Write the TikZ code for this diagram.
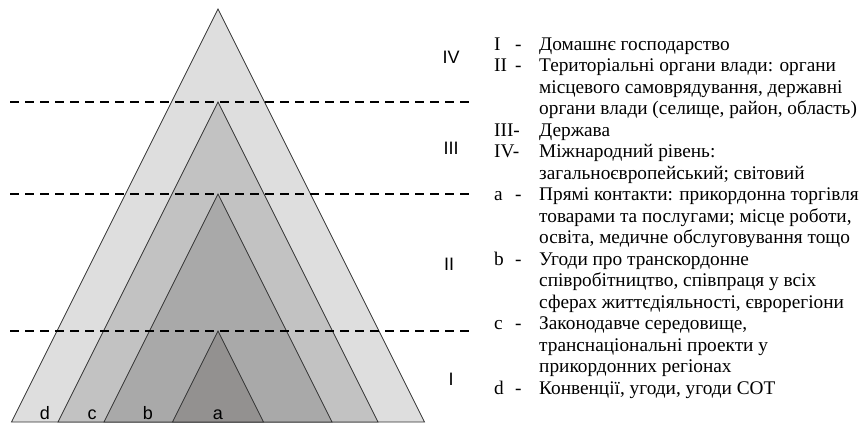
\documentclass[tikz,border=0pt]{standalone}
\usepackage{fontspec}
\setmainfont{Liberation Serif}
\newfontfamily\arialfont{Liberation Sans}
\definecolor{colD}{HTML}{DEDEDE}
\definecolor{colC}{HTML}{C2C2C2}
\definecolor{colB}{HTML}{A9A9A9}
\definecolor{colA}{HTML}{939190}
\definecolor{edge}{HTML}{333333}
\begin{document}
\begin{tikzpicture}[x=1pt,y=-1pt]
\tikzset{
  tri/.style={draw=edge, line width=0.7pt, line join=miter},
  lvl/.style={draw=black, line width=1.6pt, dash pattern=on 9pt off 6pt},
  rom/.style={font=\arialfont\fontsize{18}{20}\selectfont, inner sep=0pt},
  band/.style={font=\arialfont\fontsize{18}{20}\selectfont, inner sep=0pt, anchor=base},
  leg/.style={font=\fontsize{19.3}{21}\selectfont, anchor=base west, inner sep=0pt},
}
\useasboundingbox (0,0) rectangle (863,424);
% triangles
\draw[tri, fill=colD] (218,9) -- (424.5,422) -- (11.5,422) -- cycle;
\draw[tri, fill=colC] (218,102) -- (378,422) -- (58,422) -- cycle;
\draw[tri, fill=colB] (218,194) -- (332,422) -- (104,422) -- cycle;
\draw[tri, fill=colA] (218,331) -- (263.5,422) -- (172.5,422) -- cycle;
% level lines
\coordinate (l3a) at (10,102); \coordinate (l3b) at (471,102);
\coordinate (l2a) at (10,194); \coordinate (l2b) at (471,194);
\coordinate (l1a) at (10,331); \coordinate (l1b) at (471,331);
\draw[lvl] (l3a) -- (l3b);
\draw[lvl] (l2a) -- (l2b);
\draw[lvl] (l1a) -- (l1b);
% level labels
\node[rom] (r4) at (451,57) {IV};
\node[rom] (r3) at (451,148) {III};
\node[rom] (r2) at (449,264) {II};
\node[rom] (r1) at (451,379) {I};
% band labels
\node[band] (bd) at (45,419) {d};
\node[band] (bc) at (92,419) {c};
\node[band] (bb) at (148,419) {b};
\node[band] (ba) at (218,419) {a};
% legend
\def\ky#1{(494,{50+21.5*#1})}
\def\dy#1{(515,{50+21.5*#1})}
\def\ty#1{(539,{50+21.5*#1})}
\node[leg] (k1) at \ky{0} {I};   \node[leg] (d1) at \dy{0} {-};
\node[leg] (t1) at \ty{0} {Домашнє господарство};
\node[leg] (k2) at \ky{1} {II};  \node[leg] (d2) at \dy{1} {-};
\node[leg] (t2) at \ty{1} {Територіальні органи влади: органи};
\node[leg] (t3) at \ty{2} {місцевого самоврядування, державні};
\node[leg] (t4) at \ty{3} {органи влади (селище, район, область)};
\node[leg] (k3) at \ky{4} {III-};
\node[leg] (t5) at \ty{4} {Держава};
\node[leg] (k4) at \ky{5} {IV-};
\node[leg] (t6) at \ty{5} {Міжнародний рівень:};
\node[leg] (t7) at \ty{6} {загальноєвропейський; світовий};
\node[leg] (ka) at \ky{7} {a};   \node[leg] (da) at \dy{7} {-};
\node[leg] (t8) at \ty{7} {Прямі контакти: прикордонна торгівля};
\node[leg] (t9) at \ty{8} {товарами та послугами; місце роботи,};
\node[leg] (t10) at \ty{9} {освіта, медичне обслуговування тощо};
\node[leg] (kb) at \ky{10} {b};  \node[leg] (db) at \dy{10} {-};
\node[leg] (t11) at \ty{10} {Угоди про транскордонне};
\node[leg] (t12) at \ty{11} {співробітництво, співпраця у всіх};
\node[leg] (t13) at \ty{12} {сферах життєдіяльності, єврорегіони};
\node[leg] (kc) at \ky{13} {c};  \node[leg] (dc) at \dy{13} {-};
\node[leg] (t14) at \ty{13} {Законодавче середовище,};
\node[leg] (t15) at \ty{14} {транснаціональні проекти у};
\node[leg] (t16) at \ty{15} {прикордонних регіонах};
\node[leg] (kd) at \ky{16} {d};  \node[leg] (dd) at \dy{16} {-};
\node[leg] (t17) at \ty{16} {Конвенції, угоди, угоди СОТ};
\end{tikzpicture}
\end{document}
